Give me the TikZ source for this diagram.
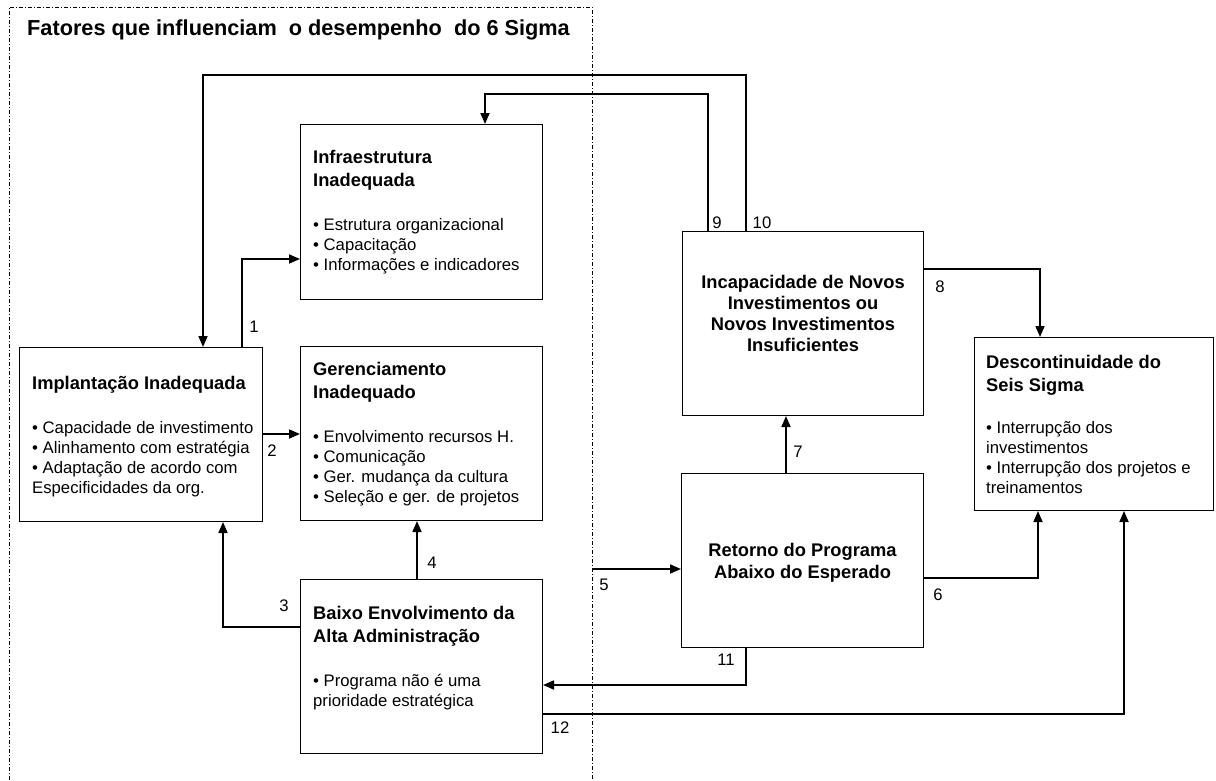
\documentclass[tikz,border=0pt]{standalone}
\usepackage{fontspec}
\setmainfont{Liberation Sans}
\usetikzlibrary{arrows.meta,calc}
\newcommand\bodyfont{\fontsize{16.7}{20}\selectfont}
\newcommand\headfont{\fontsize{18.3}{22}\selectfont\bfseries}
\newcommand\titlefont{\fontsize{21.7}{26}\selectfont\bfseries}
\newcommand\firstline{\rule{0pt}{15pt}}
\tikzset{
  box/.style={draw, line width=1pt, inner sep=0pt, anchor=north west},
  txt/.style={inner sep=0pt, align=left, anchor=north west, font=\bodyfont},
  ctxt/.style={inner sep=0pt, align=center, anchor=north, font=\bodyfont},
  arr/.style={line width=1.7pt, -{Triangle[length=11pt,width=9pt]}},
  lbl/.style={inner sep=0pt, font=\bodyfont},
  frame/.style={line width=1pt, dash pattern=on 4pt off 2pt on 1pt off 2pt}
}
\begin{document}
\begin{tikzpicture}[x=1pt,y=-1pt]
\useasboundingbox (0,0) rectangle (1216,780);
% frame
\draw[frame] (9,780) -- (9,7) -- (592,7) -- (592,780);
\node[inner sep=0pt, anchor=base west] (title) at (27,35) {\titlefont Fatores que influenciam\ \ o desempenho\ \ do 6 Sigma};

% boxes
\node[box, minimum width=243, minimum height=174] (impl) at (19,347) {};
\node[box, minimum width=242, minimum height=175] (infra) at (300,124) {};
\node[box, minimum width=242, minimum height=174] (ger) at (300,346) {};
\node[box, minimum width=242, minimum height=174] (baixo) at (300,579) {};
\node[box, minimum width=241, minimum height=184] (incap) at (682,231) {};
\node[box, minimum width=242, minimum height=174] (ret) at (681,473) {};
\node[box, minimum width=239, minimum height=173] (desc) at (974,337) {};

% texts
\node[txt] (timpl) at ($(impl.north west)+(13,27)$) {\firstline\headfont Implantação Inadequada\\[24pt]
• Capacidade de investimento\\
• Alinhamento com estratégia\\
• Adaptação de acordo com\\
Especificidades da org.};

\node[txt] (tinfra) at ($(infra.north west)+(13,24)$) {\firstline\headfont Infraestrutura\\[3pt]
\headfont Inadequada\\[24pt]
• Estrutura organizacional\\
• Capacitação\\
• Informações e indicadores};

\node[txt] (tger) at ($(ger.north west)+(13,14)$) {\firstline\headfont Gerenciamento\\[3pt]
\headfont Inadequado\\[24pt]
• Envolvimento recursos H.\\
• Comunicação\\
• Ger. mudança da cultura\\
• Seleção e ger. de projetos};

\node[txt] (tbaixo) at ($(baixo.north west)+(13,25)$) {\firstline\headfont Baixo Envolvimento da\\[3pt]
\headfont Alta Administração\\[24pt]
• Programa não é uma\\
prioridade estratégica};

\node[txt] (tdesc) at ($(desc.north west)+(12,16)$) {\firstline\headfont Descontinuidade do\\[3pt]
\headfont Seis Sigma\\[22pt]
• Interrupção dos\\
investimentos\\
• Interrupção dos projetos e\\
treinamentos};

\node[ctxt] (tret) at ($(ret.north)+(0,68)$) {\firstline\headfont Retorno do Programa\\[2pt]
\headfont Abaixo do Esperado};

\node[ctxt] (tincap) at ($(incap.north)+(0,42)$) {\firstline\headfont Incapacidade de Novos\\[1pt]
\headfont Investimentos ou\\[1pt]
\headfont Novos Investimentos\\[1pt]
\headfont Insuficientes};

% connectors
\coordinate (c5) at (592,569);
\draw[arr] (impl.north -| 242,0) |- (infra.west |- 0,259);
\draw[arr] (impl.east |- 0,434) -- (ger.west |- 0,434);
\draw[arr] (baixo.west |- 0,627) -| (impl.south -| 223,0);
\draw[arr] (baixo.north -| 417,0) -- (ger.south -| 417,0);
\draw[arr] (c5) -- (ret.west |- c5);
\draw[arr] (ret.east |- 0,578) -| (desc.south -| 1038,0);
\draw[arr] (ret.north -| 786,0) -- (incap.south -| 786,0);
\draw[arr] (incap.east |- 0,269) -| (desc.north -| 1040,0);
\draw[arr] (incap.north -| 708,0) -- (708,94) -| (infra.north -| 485,0);
\draw[arr] (incap.north -| 746,0) -- (746,75) -| (impl.north -| 203,0);
\draw[arr] (ret.south -| 746,0) |- (baixo.east |- 0,685);
\draw[arr] (baixo.east |- 0,714) -| (desc.south -| 1124,0);

% labels
\node[lbl] (l1) at (254,327) {1};
\node[lbl] (l2) at (272,451) {2};
\node[lbl] (l3) at (284,606) {3};
\node[lbl] (l4) at (432,563) {4};
\node[lbl] (l5) at (604,585) {5};
\node[lbl] (l6) at (938,595) {6};
\node[lbl] (l7) at (798,452) {7};
\node[lbl] (l8) at (940,287) {8};
\node[lbl] (l9) at (717,223) {9};
\node[lbl] (l10) at (762,223) {10};
\node[lbl] (l11) at (726,660) {11};
\node[lbl] (l12) at (560,728) {12};
\end{tikzpicture}
\end{document}
